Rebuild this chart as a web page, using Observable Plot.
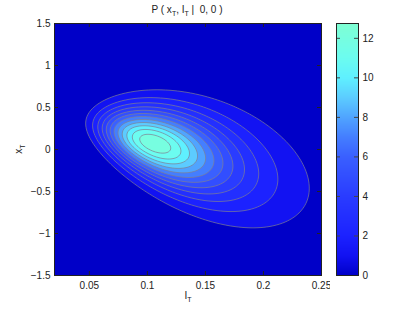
<!DOCTYPE html>
<html><head><meta charset="utf-8">
<script src="https://cdn.jsdelivr.net/npm/d3@7"></script>
<script src="https://cdn.jsdelivr.net/npm/@observablehq/plot@0.6"></script>
<style>
body{margin:0;background:#fff;}
#fig{position:relative;width:415px;height:310px;font-family:"Liberation Sans",Arial,sans-serif;color:#222;}
#fig svg{position:absolute;top:0;}
.lab{position:absolute;font-size:10px;white-space:pre;line-height:10px;}
.lab sub{font-size:7px;vertical-align:-3px;line-height:0;}
</style></head><body><div id="fig"></div>
<script>
// axis domains and ticks
const xDomain = [0.02, 0.25];
const yDomain = [-1.5, 1.5];
const xTicks = [0.05, 0.1, 0.15, 0.2, 0.25];
const yTicks = [-1.5, -1, -0.5, 0, 0.5, 1, 1.5];
const cTicks = [0, 2, 4, 6, 8, 10, 12];
const cDomain = [0, 12.75];
// density parameters
const peakValue = [12.75];
const logIShape = [-2.245, 0.3615];         // mode of log(I_T), spread
const xMeanLine = [0.497, -4.0];            // conditional mean of x_T: a + b*I_T
const xSpread = [0.277, 0.103, 0.7];        // sd at I0, I0, growth exponent
// contour levels
const levels = [1, 2, 3, 4, 5, 6, 7, 8, 9, 10, 11, 12];
// colormap
const colorStops = [0, 1, 2, 4, 6, 7, 8, 9, 10, 11, 12.75];
const colorRange = ["#0000c8", "#1212f2", "#1c22ff", "#2a3cff", "#3a60ff", "#447eff", "#50a4ff", "#5cccff", "#5ff0ff", "#6cfcf0", "#7fffd4"];

function density(I, x) {
  if (I <= 0) return 0;
  const u = Math.log(I);
  const du = (u - logIShape[0]) / logIShape[1];
  const m = xMeanLine[0] + xMeanLine[1] * I;
  const s = xSpread[0] * Math.pow(I / xSpread[1], xSpread[2]);
  const dx = (x - m) / s;
  return peakValue[0] * Math.exp(-0.5 * du * du - 0.5 * dx * dx);
}

const color = {type: "linear", domain: colorStops, range: colorRange, interpolate: "rgb"};
const fmt = d3.format("~g");
const ink = "#222";

const main = Plot.plot({
  width: 330, height: 310,
  marginLeft: 54, marginRight: 9, marginTop: 23, marginBottom: 35,
  style: {fontFamily: "Liberation Sans, Arial, sans-serif", fontSize: "10px", color: ink, background: "transparent"},
  x: {domain: xDomain, ticks: xTicks, tickFormat: fmt, tickSize: 0, tickPadding: 6, label: null},
  y: {domain: yDomain, ticks: yTicks, tickFormat: fmt, tickSize: 0, tickPadding: 4, label: null},
  color,
  marks: [
    Plot.contour({value: density, fill: "value", thresholds: [0, ...levels], x1: xDomain[0], x2: xDomain[1], y1: yDomain[0], y2: yDomain[1], pixelSize: 1}),
    Plot.contour({value: density, stroke: "#7f7f90", strokeWidth: 0.7, fill: "none", thresholds: levels, x1: xDomain[0], x2: xDomain[1], y1: yDomain[0], y2: yDomain[1], pixelSize: 1}),
    Plot.tickX(xTicks, {x: d => d, insetTop: 248, stroke: ink}),
    Plot.tickX(xTicks, {x: d => d, insetBottom: 248, stroke: ink}),
    Plot.tickY(yTicks, {y: d => d, insetRight: 263, stroke: ink}),
    Plot.tickY(yTicks, {y: d => d, insetLeft: 263, stroke: ink}),
    Plot.frame({stroke: ink})
  ]
});
main.style.left = "0px";

const bar = Plot.plot({
  width: 85, height: 310,
  marginLeft: 6, marginRight: 57, marginTop: 23, marginBottom: 35,
  style: {fontFamily: "Liberation Sans, Arial, sans-serif", fontSize: "10px", color: ink, background: "transparent"},
  x: {domain: [0, 1], axis: null},
  y: {domain: cDomain, ticks: cTicks, tickFormat: fmt, tickSize: 0, tickPadding: 4, axis: "right", label: null},
  color,
  marks: [
    Plot.raster({fill: (x, y) => y, x1: 0, x2: 1, y1: cDomain[0], y2: cDomain[1], pixelSize: 1}),
    Plot.tickY(cTicks, {y: d => d, insetRight: 18, stroke: "#444"}),
    Plot.tickY(cTicks, {y: d => d, insetLeft: 18, stroke: "#444"}),
    Plot.frame({stroke: ink})
  ]
});
bar.style.left = "330px";

const fig = document.getElementById("fig");
fig.appendChild(main);
fig.appendChild(bar);

function label(html, left, top, rotate) {
  const d = document.createElement("div");
  d.className = "lab";
  d.innerHTML = html;
  d.style.left = left + "px";
  d.style.top = top + "px";
  d.style.transform = "translate(-50%,-50%)" + (rotate ? " rotate(-90deg)" : "");
  fig.appendChild(d);
}
label("P ( x<sub>T</sub>, I<sub>T</sub> |  0, 0 )", 187, 10, false);
label("I<sub>T</sub>", 188, 296, false);
label("x<sub>T</sub>", 19, 149, true);
</script></body></html>
